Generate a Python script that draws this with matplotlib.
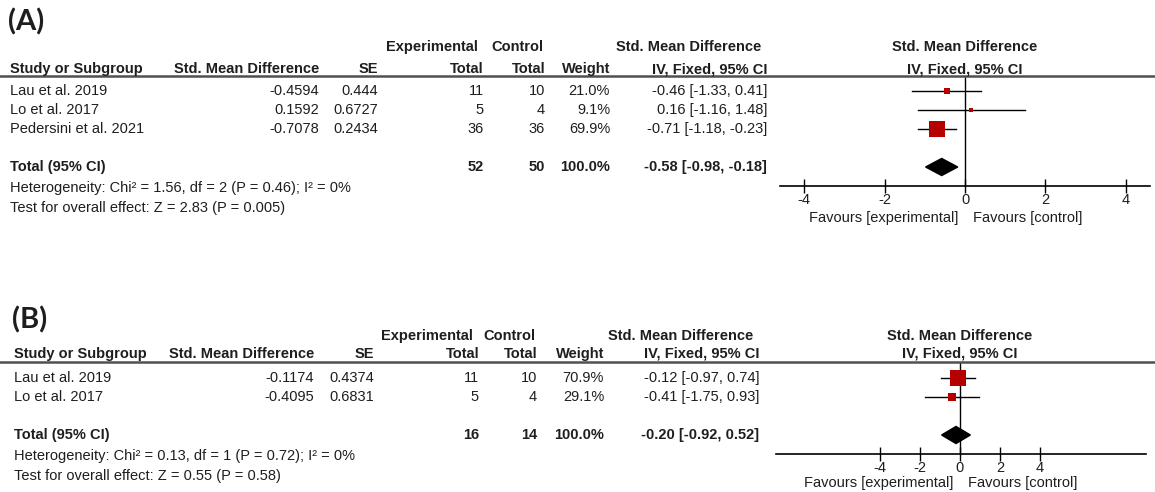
import matplotlib.pyplot as plt
import numpy as np
from matplotlib.lines import Line2D
from matplotlib.patches import Polygon

W, H = 1155, 492
plt.rcParams['font.family'] = ['Liberation Sans', 'DejaVu Sans']

# ---- panel A data
studies_a = ["Lau et al. 2019", "Lo et al. 2017", "Pedersini et al. 2021"]
smd_a = [-0.4594, 0.1592, -0.7078]
se_a = [0.444, 0.6727, 0.2434]
nexp_a = [11, 5, 36]
nctl_a = [10, 4, 36]
weight_a = [21.0, 9.1, 69.9]
lo_a = [-1.33, -1.16, -1.18]
hi_a = [0.41, 1.48, -0.23]
total_a = [-0.58, -0.98, -0.18]
ntot_a = [52, 50]
het_a = "Heterogeneity: Chi\u00b2 = 1.56, df = 2 (P = 0.46); I\u00b2 = 0%"
z_a = "Test for overall effect: Z = 2.83 (P = 0.005)"

# ---- panel B data
studies_b = ["Lau et al. 2019", "Lo et al. 2017"]
smd_b = [-0.1174, -0.4095]
se_b = [0.4374, 0.6831]
nexp_b = [11, 5]
nctl_b = [10, 4]
weight_b = [70.9, 29.1]
lo_b = [-0.97, -1.75]
hi_b = [0.74, 0.93]
total_b = [-0.20, -0.92, 0.52]
ntot_b = [16, 14]
het_b = "Heterogeneity: Chi\u00b2 = 0.13, df = 1 (P = 0.72); I\u00b2 = 0%"
z_b = "Test for overall effect: Z = 0.55 (P = 0.58)"

xticks = [-4, -2, 0, 2, 4]

fig = plt.figure(figsize=(W / 100, H / 100), dpi=100)
FS = 10.5
RED = '#b40000'
TXT = '#1e1e1e'


def fx(x):
    return x / W


def fy(y):
    return 1 - y / H


def txt(x, y, s, ha='left', bold=False, size=FS, **kw):
    fig.text(fx(x), fy(y), s, ha=ha, va='center', fontsize=size,
             fontweight='bold' if bold else 'normal', color=TXT, **kw)


def panel(label, studies, smd, se, nexp, nctl, weight, lo, hi, total, ntot, het, zt, L):
    txt(L['lab_x'], L['lab_y'], label, bold=True, size=21, family=['Lato', 'DejaVu Sans'])
    h1, h2 = L['h1'], L['h2']
    c = L['cols']
    # headers
    txt(c['exp'] - 6, h1, "Experimental", ha='right', bold=True)
    txt(c['ctl'] - 2, h1, "Control", ha='right', bold=True)
    txt(c['ci'] - 6, h1, "Std. Mean Difference", ha='right', bold=True)
    txt(L['zero'], h1, "Std. Mean Difference", ha='center', bold=True)
    txt(c['study'], h2, "Study or Subgroup", bold=True)
    txt(c['smd'], h2, "Std. Mean Difference", ha='right', bold=True)
    txt(c['se'], h2, "SE", ha='right', bold=True)
    txt(c['exp'], h2, "Total", ha='right', bold=True)
    txt(c['ctl'], h2, "Total", ha='right', bold=True)
    txt(c['w'], h2, "Weight", ha='right', bold=True)
    txt(c['ci'], h2, "IV, Fixed, 95% CI", ha='right', bold=True)
    txt(L['zero'], h2, "IV, Fixed, 95% CI", ha='center', bold=True)
    fig.add_artist(Line2D([0, 1], [fy(L['rule']), fy(L['rule'])], color='#505050', lw=1.8))

    # rows
    for i, s in enumerate(studies):
        y = L['row0'] + i * L['dy']
        txt(c['study'], y, s)
        txt(c['smd'], y, str(smd[i]), ha='right')
        txt(c['se'], y, str(se[i]), ha='right')
        txt(c['exp'], y, str(nexp[i]), ha='right')
        txt(c['ctl'], y, str(nctl[i]), ha='right')
        txt(c['w'], y, f"{weight[i]:.1f}%", ha='right')
        txt(c['ci'], y, f"{smd[i]:.2f} [{lo[i]:.2f}, {hi[i]:.2f}]", ha='right')
    n = len(studies)
    ty = L['row0'] + (n + 1) * L['dy']
    txt(c['study'], ty, "Total (95% CI)", bold=True)
    txt(c['exp'], ty, str(ntot[0]), ha='right', bold=True)
    txt(c['ctl'], ty, str(ntot[1]), ha='right', bold=True)
    txt(c['w'], ty, f"{sum(weight):.1f}%", ha='right', bold=True)
    txt(c['ci'], ty, f"{total[0]:.2f} [{total[1]:.2f}, {total[2]:.2f}]", ha='right', bold=True)
    txt(c['study'], L['het'], het)
    txt(c['study'], L['het'] + L['dy2'], zt)

    # forest axes
    axy = L['row0'] + (n + 2) * L['dy']
    ax = fig.add_axes([fx(L['ax_l']), fy(axy), fx(L['ax_r']) - fx(L['ax_l']),
                       fy(L['rule']) - fy(axy)])
    ax.patch.set_alpha(0)
    ax.set_xlim(L['xlim'])
    top = (L['rule'] - L['row0']) / L['dy']
    ax.set_ylim(n + 2, top)
    ax.axvline(0, color='black', lw=1, zorder=1)
    w = np.array(weight)
    sizes = 16 * (w / 70) ** 0.7 * 0.72
    for i in range(n):
        ax.plot([lo[i], hi[i]], [i, i], color='black', lw=1, zorder=2)
        ax.plot(smd[i], i, 's', color=RED, ms=sizes[i], mew=0, zorder=3)
    d = 0.45
    ax.add_patch(Polygon([[total[1], n + 1], [total[0], n + 1 - d], [total[2], n + 1],
                          [total[0], n + 1 + d]], closed=True, color='black', zorder=3))
    for sp in ['top', 'left', 'right']:
        ax.spines[sp].set_visible(False)
    ax.spines['bottom'].set_linewidth(1.2)
    ax.set_yticks([])
    ax.set_xticks(xticks)
    ax.set_xticklabels([str(t) for t in xticks])
    ax.tick_params(axis='x', direction='inout', length=10, width=1, labelsize=FS,
                   pad=0, labelcolor=TXT)
    txt(L['zero'] - 7, L['fav'], "Favours [experimental]", ha='right')
    txt(L['zero'] + 8, L['fav'], "Favours [control]")


LA = dict(lab_x=8, lab_y=22, h1=47, h2=69, rule=76, row0=91, dy=19, het=188, dy2=20,
          cols=dict(study=10, smd=319, se=378, exp=484, ctl=545, w=610, ci=767),
          zero=965, ax_l=780, ax_r=1150, xlim=(-4.6, 4.6), fav=218)
LB = dict(lab_x=12, lab_y=320, h1=336, h2=354, rule=362, row0=378, dy=19, het=456, dy2=20,
          cols=dict(study=14, smd=314, se=374, exp=479, ctl=537, w=604, ci=759),
          zero=960, ax_l=776, ax_r=1146, xlim=(-9.2, 9.3), fav=483)

panel("(A)", studies_a, smd_a, se_a, nexp_a, nctl_a, weight_a, lo_a, hi_a,
      total_a, ntot_a, het_a, z_a, LA)
panel("(B)", studies_b, smd_b, se_b, nexp_b, nctl_b, weight_b, lo_b, hi_b,
      total_b, ntot_b, het_b, z_b, LB)

fig.savefig("out.png", dpi=100)
